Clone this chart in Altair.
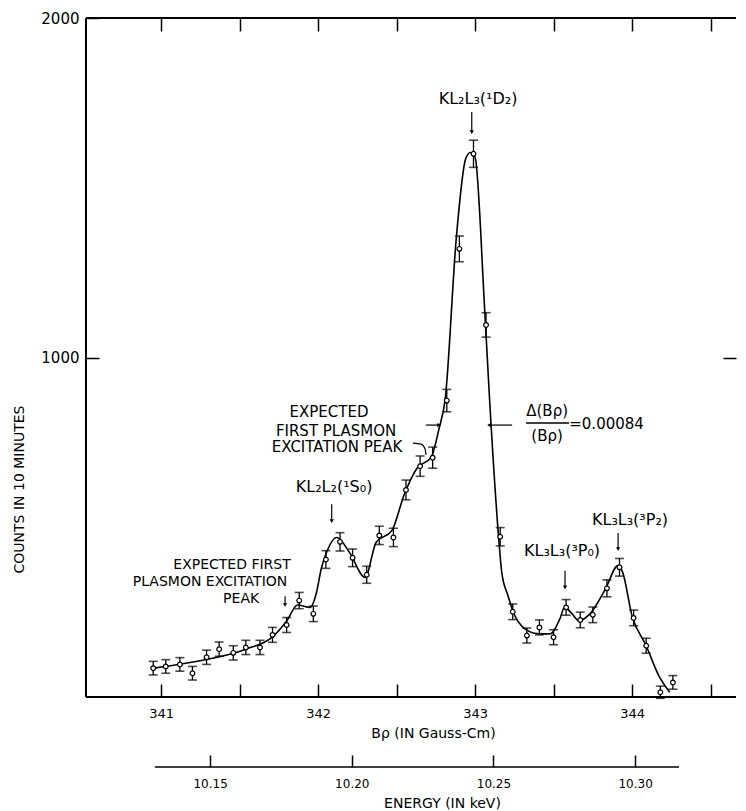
import altair as alt
import pandas as pd

# ---- data ----
bp = [340.95, 341.03, 341.12, 341.20, 341.29, 341.37, 341.46, 341.54, 341.63, 341.71,
      341.80, 341.88, 341.97, 342.05, 342.14, 342.22, 342.31, 342.39, 342.48, 342.56,
      342.65, 342.73, 342.82, 342.90, 342.99, 343.07, 343.16, 343.24, 343.33, 343.41,
      343.50, 343.58, 343.67, 343.75, 343.84, 343.92, 344.01, 344.09, 344.18, 344.26]
counts = [85, 90, 96, 70, 117, 141, 130, 146, 146, 183,
          212, 284, 245, 405, 457, 410, 360, 476, 470, 610,
          680, 705, 873, 1320, 1600, 1096, 472, 251, 181, 205,
          176, 264, 227, 242, 320, 382, 233, 151, 14, 43]
errs = [20, 20, 20, 20, 21, 21, 21, 21, 21, 22,
        22, 24, 23, 26, 27, 26, 25, 27, 27, 29,
        30, 31, 33, 38, 40, 36, 27, 23, 22, 22,
        22, 23, 23, 23, 25, 26, 23, 22, 18, 20]

curve_bp = [340.95, 341.24, 341.54, 341.71, 341.80, 341.87, 341.95, 341.99, 342.02, 342.05,
            342.12, 342.20, 342.30, 342.37, 342.47, 342.55, 342.63, 342.72, 342.77, 342.81,
            342.88, 342.94, 342.97, 343.00, 343.06, 343.09, 343.15, 343.17, 343.21, 343.24,
            343.32, 343.41, 343.48, 343.54, 343.57, 343.62, 343.66, 343.73, 343.83, 343.91,
            343.94, 344.00, 344.09, 344.17, 344.24]
curve_counts = [85, 106, 141, 177, 224, 271, 264, 308, 377, 421,
                470, 426, 352, 456, 490, 598, 674, 706, 789, 878,
                1349, 1585, 1604, 1590, 1152, 897, 471, 367, 298, 254,
                200, 186, 186, 230, 264, 244, 225, 244, 318, 387,
                367, 239, 151, 63, 14]

bp_ticks = [341, 341.5, 342, 342.5, 343, 343.5, 344, 344.5]
energy_ticks = [10.15, 10.20, 10.25, 10.30]
count_ticks = [1000, 2000]
energy_line = [10.1305, 10.3155]

ann_text = ["KL₂L₃(¹D₂)", "KL₂L₂(¹S₀)", "EXPECTED", "FIRST PLASMON", "EXCITATION PEAK",
            "EXPECTED FIRST", "PLASMON EXCITATION", "PEAK", "KL₃L₃(³P₀)", "KL₃L₃(³P₂)",
            "Δ(Bρ)", "(Bρ)"]
ann_x = [343.019, 342.102, 342.070, 342.115, 342.121, 341.452, 341.312, 341.510,
         343.554, 343.987, 343.459, 343.459]
ann_y = [1761, 619, 838, 784, 735, 388, 338, 290, 431, 521, 842, 769]
ann_size = [16, 16, 15, 15, 15, 14, 14, 14, 16, 16, 15, 15]

ratio_text = ["=0.00084"]
ratio_x = [343.60]
ratio_y = [804]

frac_x = [343.325]
frac_x2 = [343.599]
frac_y = [807]

arrow_x = [342.979, 342.087, 341.790, 343.573, 343.911]
arrow_top = [1723, 568, 297, 372, 483]
arrow_bot = [1664, 518, 271, 323, 436]

fwhm_x0 = [342.686, 343.236]
fwhm_x1 = [342.771, 343.089]
fwhm_y = [801, 801]
fwhm_head = ["triangle-right", "triangle-left"]

bracket_x = [342.605, 342.656, 342.682, 342.688]
bracket_y = [748, 745, 730, 713]

BP_DOMAIN = [340.522, 344.662]
E_DOMAIN = [10.1062, 10.3356]
Y_DOMAIN = [0, 2000]

W, H = 650, 679
FONT = "DejaVu Sans"

pts = pd.DataFrame({"bp": bp, "c": counts,
                    "lo": [c - e for c, e in zip(counts, errs)],
                    "hi": [c + e for c, e in zip(counts, errs)]})
curve = pd.DataFrame({"bp": curve_bp, "c": curve_counts})
ann = pd.DataFrame({"t": ann_text, "x": ann_x, "y": ann_y, "s": ann_size})
ratio = pd.DataFrame({"t": ratio_text, "x": ratio_x, "y": ratio_y})
frac = pd.DataFrame({"x": frac_x, "x2": frac_x2, "y": frac_y})
arrows = pd.DataFrame({"x": arrow_x, "y": arrow_top, "y2": arrow_bot,
                       "shape": ["triangle-down"] * len(arrow_x)})
fwhm = pd.DataFrame({"x": fwhm_x0, "x2": fwhm_x1, "y": fwhm_y, "shape": fwhm_head})
bracket = pd.DataFrame({"x": bracket_x, "y": bracket_y, "o": list(range(len(bracket_x)))})
eline = pd.DataFrame({"e0": [energy_line[0]], "e1": [energy_line[1]]})
one = pd.DataFrame({"a": [0]})

xs = alt.Scale(domain=BP_DOMAIN, nice=False, zero=False)
ys = alt.Scale(domain=Y_DOMAIN, nice=False, zero=False)
es = alt.Scale(domain=E_DOMAIN, nice=False, zero=False)

x_bottom = alt.Axis(orient="bottom", values=bp_ticks,
                    labelExpr="datum.value % 1 == 0 ? format(datum.value, 'd') : ''",
                    offset=-13, tickSize=13, tickWidth=1.5, tickColor="black",
                    domain=False, grid=False, labelPadding=10, labelFont=FONT,
                    labelFontSize=13, labelColor="black",
                    title="Bρ (IN Gauss-Cm)", titleFont=FONT, titleFontSize=14,
                    titleFontWeight="normal", titleColor="black", titlePadding=6,
                    titleX=347)
x_top = alt.Axis(orient="top", values=bp_ticks, labels=False, offset=-13, tickSize=13,
                 tickWidth=1.5, tickColor="black", domain=False, grid=False, title=None)
y_left = alt.Axis(orient="left", values=count_ticks, format="d", offset=-13, tickSize=13,
                  tickWidth=1.5, tickColor="black", domain=False, grid=False,
                  labelPadding=7, labelFont=FONT, labelFontSize=15, labelColor="black",
                  title="COUNTS  IN  10 MINUTES", titleFont=FONT, titleFontSize=14,
                  titleFontWeight="normal", titleColor="black", titleX=-73, titleY=471)
y_right = alt.Axis(orient="right", values=[1000], labels=False, offset=-13, tickSize=13,
                   tickWidth=1.5, tickColor="black", domain=False, grid=False, title=None)
e_axis = alt.Axis(orient="bottom", values=energy_ticks, format=".2f", offset=58,
                  tickSize=12, tickWidth=1.5, tickColor="black", domain=False, grid=False,
                  labelPadding=11, labelFont=FONT, labelFontSize=12, labelColor="black",
                  title="ENERGY  (IN keV)", titleFont=FONT, titleFontSize=14,
                  titleFontWeight="normal", titleColor="black", titlePadding=7,
                  titleX=356)

def X(f, axis=None):
    return alt.X(f, scale=xs, axis=axis)

def Y(f, axis=None):
    return alt.Y(f, scale=ys, axis=axis)

line = alt.Chart(curve).mark_line(interpolate="monotone", color="black", strokeWidth=1.6).encode(
    x=X("bp:Q", x_bottom), y=Y("c:Q", y_left))
bars = alt.Chart(pts).mark_rule(color="black", strokeWidth=1.3).encode(
    x=X("bp:Q", x_top), y=Y("lo:Q", y_right), y2="hi:Q")
cap_lo = alt.Chart(pts).mark_tick(orient="horizontal", size=9, thickness=1.6, color="black").encode(
    x=X("bp:Q"), y=Y("lo:Q"))
cap_hi = alt.Chart(pts).mark_tick(orient="horizontal", size=9, thickness=1.6, color="black").encode(
    x=X("bp:Q"), y=Y("hi:Q"))
dots = alt.Chart(pts).mark_point(shape="circle", filled=True, fill="white", stroke="black",
                                 size=22, strokeWidth=1.2, opacity=1).encode(
    x=X("bp:Q"), y=Y("c:Q"))

energy = alt.Chart(eline).mark_rule(color="black", strokeWidth=1.6).encode(
    x=alt.X("e0:Q", scale=es, axis=e_axis), x2="e1:Q", y=alt.value(H + 70))

frame_top = alt.Chart(one).mark_rule(color="black", strokeWidth=2).encode(
    x=alt.value(0), x2=alt.value(W), y=alt.value(0))
frame_bot = alt.Chart(one).mark_rule(color="black", strokeWidth=2).encode(
    x=alt.value(0), x2=alt.value(W), y=alt.value(H))
frame_left = alt.Chart(one).mark_rule(color="black", strokeWidth=2).encode(
    x=alt.value(0), y=alt.value(0), y2=alt.value(H))

texts = alt.Chart(ann).mark_text(font=FONT, color="black", baseline="middle", align="center").encode(
    x=X("x:Q"), y=Y("y:Q"), text="t:N", size=alt.Size("s:Q", scale=None))
ratio_t = alt.Chart(ratio).mark_text(font=FONT, fontSize=15, color="black", baseline="middle",
                                     align="left").encode(x=X("x:Q"), y=Y("y:Q"), text="t:N")
frac_r = alt.Chart(frac).mark_rule(color="black", strokeWidth=1.3).encode(
    x=X("x:Q"), x2="x2:Q", y=Y("y:Q"))
arr_r = alt.Chart(arrows).mark_rule(color="black", strokeWidth=1.2).encode(
    x=X("x:Q"), y=Y("y:Q"), y2="y2:Q")
arr_h = alt.Chart(arrows).mark_point(filled=True, color="black", size=18, opacity=1).encode(
    x=X("x:Q"), y=Y("y2:Q"), shape=alt.Shape("shape:N", scale=None))
fw_r = alt.Chart(fwhm).mark_rule(color="black", strokeWidth=1.2).encode(
    x=X("x:Q"), x2="x2:Q", y=Y("y:Q"))
fw_h = alt.Chart(fwhm).mark_point(filled=True, color="black", size=18, opacity=1).encode(
    x=X("x2:Q"), y=Y("y:Q"), shape=alt.Shape("shape:N", scale=None))
br_l = alt.Chart(bracket).mark_line(color="black", strokeWidth=1.2, interpolate="monotone").encode(
    x=X("x:Q"), y=Y("y:Q"), order="o:Q")

chart = alt.layer(
    line, bars, cap_lo, cap_hi, dots, energy, frame_top, frame_bot, frame_left,
    texts, ratio_t, frac_r, arr_r, arr_h, fw_r, fw_h, br_l
).resolve_scale(x="independent", y="independent").properties(
    width=W, height=H,
    padding={"left": 4, "top": 3, "right": 0, "bottom": 0},
    background="white",
).configure_view(stroke=None)

chart.save("out.html", embed_options={"renderer": "svg", "actions": False})
